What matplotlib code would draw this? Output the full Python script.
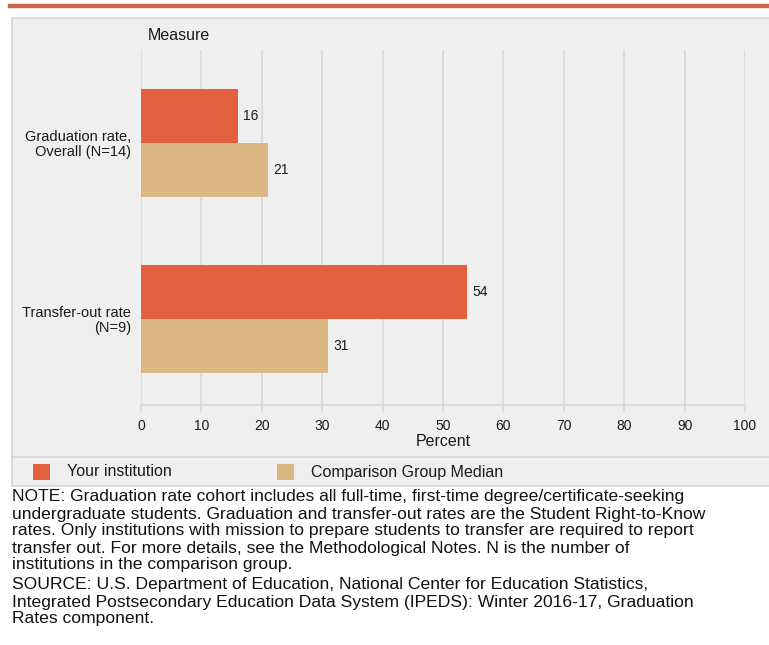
import matplotlib.pyplot as plt
from matplotlib.patches import Rectangle
from matplotlib.lines import Line2D
import numpy as np

# data
categories = ["Graduation rate,\nOverall (N=14)", "Transfer-out rate\n(N=9)"]
your_institution = [16, 54]
comparison_median = [21, 31]
x_ticks = [0, 10, 20, 30, 40, 50, 60, 70, 80, 90, 100]
series_names = ["Your institution", "Comparison Group Median"]

note_lines = [
    "NOTE: Graduation rate cohort includes all full-time, first-time degree/certificate-seeking",
    "undergraduate students. Graduation and transfer-out rates are the Student Right-to-Know",
    "rates. Only institutions with mission to prepare students to transfer are required to report",
    "transfer out. For more details, see the Methodological Notes. N is the number of",
    "institutions in the comparison group.",
]
source_lines = [
    "SOURCE: U.S. Department of Education, National Center for Education Statistics,",
    "Integrated Postsecondary Education Data System (IPEDS): Winter 2016-17, Graduation",
    "Rates component.",
]

ORANGE = "#e2603d"
TAN = "#ddb783"
PANEL = "#efefef"
EDGE = "#d6d6d6"
GRID = "#d9d9d9"
TXT = "#1a1a1a"

plt.rcParams["font.family"] = ["Liberation Sans", "DejaVu Sans"]

W, H = 769, 645
fig = plt.figure(figsize=(W / 100, H / 100), dpi=100)


def fx(px):
    return px / W


def fy(py):
    return 1 - py / H


# top rule and grey panel (behind the axes)
fig.add_artist(Line2D([fx(10), 1], [fy(6), fy(6)], color="#c8674a", lw=3.2,
                      zorder=-2))
fig.add_artist(Rectangle((fx(12), fy(486)), 1, fy(18) - fy(486),
                         facecolor=PANEL, edgecolor=EDGE, lw=1.2, zorder=-2))
fig.add_artist(Line2D([fx(12), 1], [fy(457), fy(457)], color=EDGE, lw=1.2,
                      zorder=-1))

ax = fig.add_axes([fx(141), fy(405), fx(745) - fx(141), fy(50) - fy(405)])
ax.set_facecolor("none")
ax.set_zorder(1)

pos = np.arange(len(categories))
h = 0.307
b1 = ax.barh(pos - h / 2, your_institution, height=h, color=ORANGE, zorder=3)
b2 = ax.barh(pos + h / 2, comparison_median, height=h, color=TAN, zorder=3)
ax.bar_label(b1, padding=4, fontsize=10, color=TXT)
ax.bar_label(b2, padding=4, fontsize=10, color=TXT)

ax.set_xlim(0, 100)
ax.set_ylim(1.489, -0.528)
ax.set_xticks(x_ticks)
ax.set_yticks(pos)
ax.set_yticklabels(categories, fontsize=10.5, color=TXT, ha="right",
                   linespacing=1.05)
ax.tick_params(axis="y", length=0, pad=7)
ax.tick_params(axis="x", length=5, color=GRID, width=1.2, labelsize=10,
               labelcolor=TXT, pad=5)
ax.xaxis.grid(True, color=GRID, lw=1.2, zorder=0)
for s in ["top", "right", "left"]:
    ax.spines[s].set_visible(False)
ax.spines["bottom"].set_color(GRID)
ax.spines["bottom"].set_linewidth(1.2)

fig.text(fx(148), fy(35), "Measure", fontsize=11.5, color=TXT, va="center")
fig.text(fx(443), fy(441), "Percent", fontsize=11.5, color=TXT,
         va="center", ha="center")

# legend row
for x0, col, name, tx in [(33, ORANGE, series_names[0], 67),
                          (277, TAN, series_names[1], 311)]:
    fig.add_artist(Rectangle((fx(x0), fy(480)), fx(17), fy(464) - fy(480),
                             facecolor=col, edgecolor="none"))
    fig.text(fx(tx), fy(472), name, fontsize=11.5, color=TXT, va="center")

# notes
ys = [497, 514, 531, 548, 565]
for y, line in zip(ys, note_lines):
    fig.text(fx(12), fy(y), line, fontsize=12.6, color="#111111", va="center")
ys = [585, 602, 619]
for y, line in zip(ys, source_lines):
    fig.text(fx(12), fy(y), line, fontsize=12.6, color="#111111", va="center")

fig.savefig("out.png", dpi=100, facecolor="white")
